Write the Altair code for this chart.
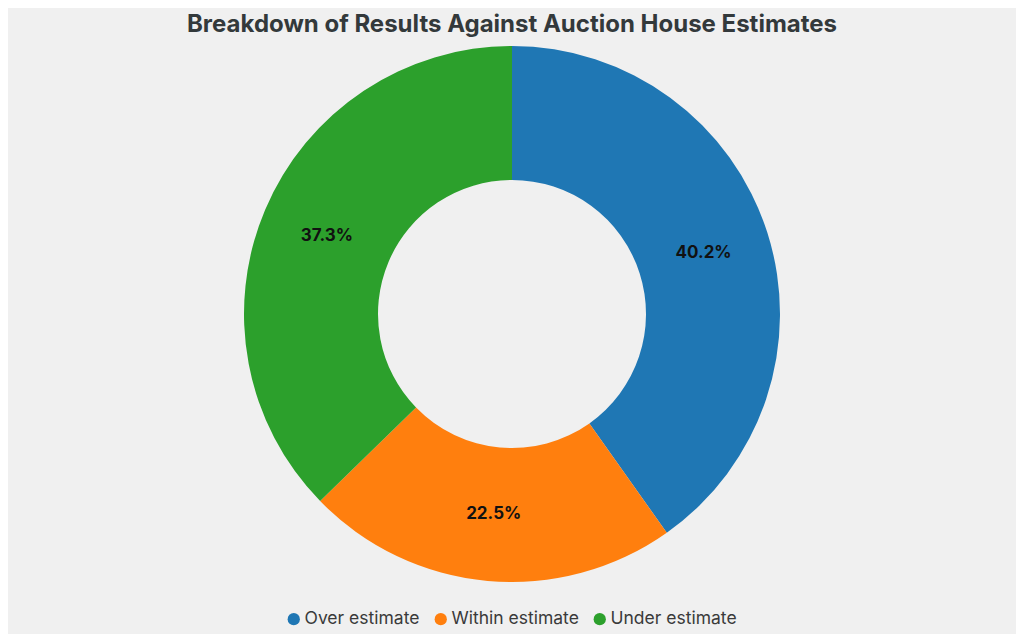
import altair as alt
import pandas as pd

title_text = "Breakdown of Results Against Auction House Estimates"
categories = ["Over estimate", "Within estimate", "Under estimate"]
shares = [40.2, 22.5, 37.3]
colors = ["#1f77b4", "#ff7f0e", "#2ca02c"]

df = pd.DataFrame({
    "category": categories,
    "share": shares,
    "order": list(range(len(categories))),
    "label": [f"{v:.1f}%" for v in shares],
})

CX, CY = 504, 266

base = alt.Chart(df).encode(
    theta=alt.Theta("share:Q", stack=True),
    order=alt.Order("order:Q"),
    x=alt.value(CX),
    y=alt.value(CY),
)

arcs = base.mark_arc(outerRadius=268, innerRadius=134).encode(
    color=alt.Color(
        "category:N",
        scale=alt.Scale(domain=categories, range=colors),
        sort=categories,
        legend=alt.Legend(
            title=None,
            orient="none",
            direction="horizontal",
            legendX=277,
            legendY=562,
            symbolType="circle",
            symbolSize=150,
            labelFont="Inter",
            labelFontSize=17.5,
            labelColor="#3a3a3a",
            columnPadding=12,
            symbolOffset=0,
            labelOffset=2,
        ),
    )
)

labels = base.mark_text(
    radius=201, font="Inter", fontSize=17, fontWeight="bold", color="#111111"
).encode(text="label:N")

title = (
    alt.Chart(pd.DataFrame({"t": [title_text]}))
    .mark_text(
        font="Inter",
        fontSize=24,
        fontWeight="bold",
        color="#33393b",
        align="center",
        baseline="alphabetic",
    )
    .encode(text="t:N", x=alt.value(CX), y=alt.value(-16))
)

chart = (
    alt.layer(arcs, labels, title)
    .properties(
        width=1008,
        height=578,
        padding={"left": 0, "right": 0, "top": 40, "bottom": 8},
        autosize=alt.AutoSizeParams(type="none"),
        background="#f0f0f0",
    )
    .configure_view(stroke=None)
)

chart.save("out.html", embed_options={"renderer": "svg", "actions": False})
